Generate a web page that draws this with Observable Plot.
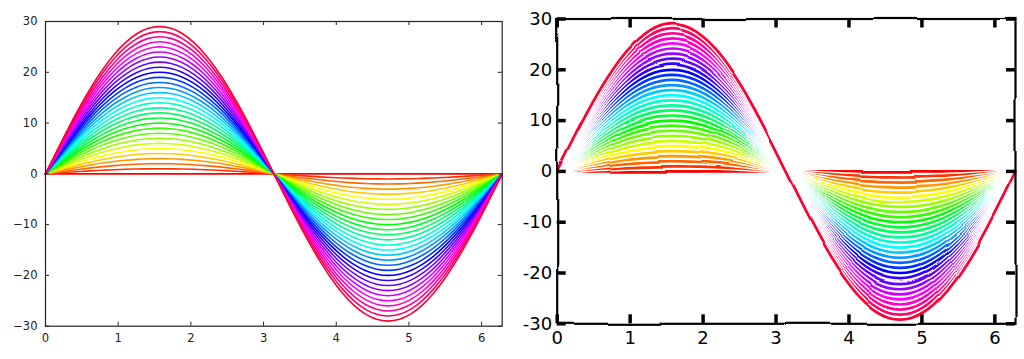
<!DOCTYPE html>
<html><head><meta charset="utf-8">
<script src="https://cdn.jsdelivr.net/npm/d3@7"></script>
<script src="https://cdn.jsdelivr.net/npm/@observablehq/plot@0.6"></script>
<style>
body{margin:0;background:#fff;width:1024px;height:359px;overflow:hidden;position:relative}
#left,#right{position:absolute;top:0}
#left{left:0}#right{left:512px}
</style>
</head><body>
<div id="left"></div><div id="right"></div>
<script>
// amplitudes of the 30 curves (0 .. 29)
const amplitudes = [0,1,2,3,4,5,6,7,8,9,10,11,12,13,14,15,16,17,18,19,20,21,22,23,24,25,26,27,28,29];
// x positions along the curves
const xValues = [0,0.157,0.314,0.471,0.628,0.785,0.942,1.100,1.257,1.414,1.571,1.728,1.885,2.042,2.199,2.356,2.513,2.670,2.827,2.985,3.142,3.299,3.456,3.613,3.770,3.927,4.084,4.241,4.398,4.555,4.712,4.869,5.027,5.184,5.341,5.498,5.655,5.812,5.969,6.126,6.283];
// common (unit) curve shape
const unitShape = [0,0.156,0.309,0.454,0.588,0.707,0.809,0.891,0.951,0.988,1,0.988,0.951,0.891,0.809,0.707,0.588,0.454,0.309,0.156,0,-0.156,-0.309,-0.454,-0.588,-0.707,-0.809,-0.891,-0.951,-0.988,-1,-0.988,-0.951,-0.891,-0.809,-0.707,-0.588,-0.454,-0.309,-0.156,0];
const xTicks = [0,1,2,3,4,5,6];
const yTicks = [-30,-20,-10,0,10,20,30];
const leftYLabels = ["\u221230","\u221220","\u221210","0","10","20","30"];
const rightYLabels = ["-30","-20","-10","0","10","20","30"];
const xDomain = [0, 6.283];
const yDomain = [-30, 30];

const rows = amplitudes.flatMap(a => xValues.map((x, k) => ({a, x, y: a * unitShape[k]})));
const colorOf = a => d3.hsl(a / amplitudes.length * 360, 1, 0.5).formatHex();
const seriesOf = a => rows.filter(r => r.a === a);

// ---------- left panel (classic) ----------
{
  const W = 512, H = 359, mL = 45, mR = 10.3, mT = 21, mB = 33.3;
  const fW = W - mL - mR, fH = H - mT - mB, t = 4, ink = "#222";
  const chart = Plot.plot({
    width: W, height: H, marginLeft: mL, marginRight: mR, marginTop: mT, marginBottom: mB,
    style: {fontFamily: "DejaVu Sans", fontSize: "11.5px", color: ink, background: "white"},
    x: {domain: xDomain, label: null},
    y: {domain: yDomain, label: null},
    marks: [
      ...amplitudes.map(a => Plot.line(seriesOf(a), {x: "x", y: "y", stroke: colorOf(a), strokeWidth: 1.6, curve: "natural"})),
      Plot.frame({stroke: ink, strokeWidth: 1.2}),
      Plot.tickX(xTicks, {x: d => d, stroke: ink, insetTop: fH - t}),
      Plot.tickX(xTicks, {x: d => d, stroke: ink, insetBottom: fH - t}),
      Plot.tickY(yTicks, {y: d => d, stroke: ink, insetRight: fW - t}),
      Plot.tickY(yTicks, {y: d => d, stroke: ink, insetLeft: fW - t}),
      Plot.axisX({ticks: xTicks, tickSize: 0, tickPadding: 8, tickFormat: d => String(d), fill: ink}),
      Plot.axisY({ticks: yTicks, tickSize: 0, tickPadding: 8, tickFormat: d => leftYLabels[yTicks.indexOf(d)], fill: ink})
    ]
  });
  document.getElementById("left").append(chart);
}

// ---------- right panel (sketch style) ----------
{
  const W = 512, H = 359, mL = 44.7, mR = 9, mT = 18.5, mB = 35.7;
  const fW = W - mL - mR, fH = H - mT - mB, t = 9, ink = "#000";
  const chart = Plot.plot({
    width: W, height: H, marginLeft: mL, marginRight: mR, marginTop: mT, marginBottom: mB,
    style: {fontFamily: "DejaVu Sans", fontSize: "18px", color: ink, background: "white"},
    x: {domain: xDomain, label: null},
    y: {domain: yDomain, label: null},
    marks: [
      ...amplitudes.flatMap(a => [
        Plot.line(seriesOf(a), {x: "x", y: "y", stroke: "white", strokeWidth: 5.5, curve: "natural"}),
        Plot.line(seriesOf(a), {x: "x", y: "y", stroke: colorOf(a), strokeWidth: 2.7, curve: "natural"})
      ]),
      Plot.frame({stroke: ink, strokeWidth: 2.2}),
      Plot.tickX(xTicks, {x: d => d, stroke: ink, strokeWidth: 3.5, insetTop: fH - t}),
      Plot.tickX(xTicks, {x: d => d, stroke: ink, strokeWidth: 3.5, insetBottom: fH - t}),
      Plot.tickY(yTicks, {y: d => d, stroke: ink, strokeWidth: 3.5, insetRight: fW - t}),
      Plot.tickY(yTicks, {y: d => d, stroke: ink, strokeWidth: 3.5, insetLeft: fW - t}),
      Plot.axisX({ticks: xTicks, tickSize: 0, tickPadding: 7, tickFormat: d => String(d), fill: ink}),
      Plot.axisY({ticks: yTicks, tickSize: 0, tickPadding: 5, tickFormat: d => rightYLabels[yTicks.indexOf(d)], fill: ink})
    ]
  });
  const ns = "http://www.w3.org/2000/svg";
  const defs = document.createElementNS(ns, "defs");
  defs.innerHTML = '<filter id="sketch" filterUnits="userSpaceOnUse" x="-20" y="-20" width="560" height="400" color-interpolation-filters="sRGB">' +
    '<feTurbulence type="fractalNoise" baseFrequency="0.012" numOctaves="1" seed="4" result="n"/>' +
    '<feDisplacementMap in="SourceGraphic" in2="n" scale="5" xChannelSelector="R" yChannelSelector="G" result="d"/>' +
    '<feGaussianBlur in="d" stdDeviation="0.45"/></filter>';
  chart.insertBefore(defs, chart.firstChild);
  chart.querySelectorAll('[aria-label="line"], [aria-label="frame"]').forEach(el => el.setAttribute("filter", "url(#sketch)"));
  document.getElementById("right").append(chart);
}
</script>
</body></html>
